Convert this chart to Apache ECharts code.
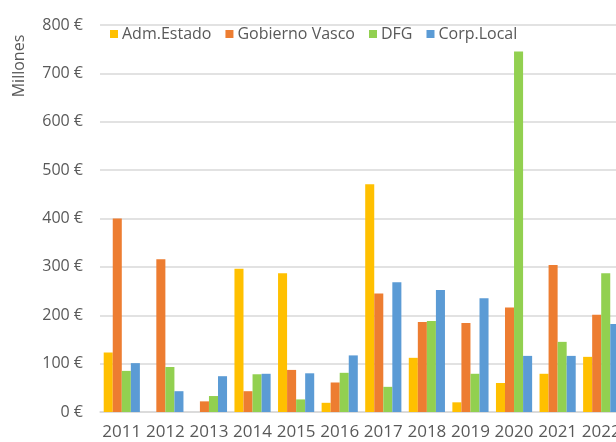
<!DOCTYPE html>
<html>
<head>
<meta charset="utf-8">
<script src="https://cdn.jsdelivr.net/npm/echarts@6/dist/echarts.min.js"></script>
<style>
  html, body { margin: 0; padding: 0; overflow: hidden; background: #fff; }
  #chart { width: 640px; height: 442px; }
</style>
</head>
<body>
<div id="chart"></div>
<script>
// ---- 数据 ----
var years      = ["2011", "2012", "2013", "2014", "2015", "2016", "2017", "2018", "2019", "2020", "2021", "2022"];
var admEstado  = [123, 0, 0, 296, 287, 19, 471, 112, 20, 60, 79, 114];
var gobVasco   = [400, 316, 22, 43, 87, 61, 245, 186, 184, 216, 304, 201];
var dfg        = [85, 93, 33, 78, 26, 81, 52, 188, 79, 745, 145, 287];
var corpLocal  = [101, 43, 74, 79, 80, 117, 268, 252, 235, 116, 116, 182];
var seriesNames = ["Adm.Estado", "Gobierno Vasco", "DFG", "Corp.Local"];
var colors      = ["#FFC000", "#ED7D31", "#92D050", "#5B9BD5"];

var FONT = "'Open Sans', 'Noto Sans', sans-serif";
var TEXT = "#595959";

var chart = echarts.init(document.getElementById("chart"), null, { renderer: "canvas" });

function bar(name, data) {
  return { name: name, type: "bar", data: data, barGap: "0%", barCategoryGap: "17%" };
}

chart.setOption({
  animation: false,
  color: colors,
  textStyle: { fontFamily: FONT },
  legend: {
    left: 110, top: 26, padding: 0,
    icon: "rect", itemWidth: 8, itemHeight: 8, itemGap: 14,
    textStyle: { fontSize: 16, color: TEXT, fontFamily: FONT, padding: [0, 0, 0, -1] },
    data: seriesNames
  },
  grid: { left: 100, top: 25, width: 523, height: 387, containLabel: false },
  xAxis: {
    type: "category",
    data: years,
    axisTick: { show: false },
    axisLine: { lineStyle: { color: "#d9d9d9", width: 1.5 } },
    axisLabel: { interval: 0, margin: 12, fontSize: 17, color: TEXT, fontFamily: FONT }
  },
  yAxis: {
    type: "value",
    min: 0, max: 800, interval: 100,
    axisLine: { show: false },
    axisTick: { show: false },
    splitLine: { lineStyle: { color: "#d9d9d9", width: 1.5 } },
    axisLabel: { margin: 17, fontSize: 16, color: TEXT, fontFamily: FONT, formatter: "{value} €" }
  },
  graphic: [{
    type: "text",
    x: 19, y: 66,
    rotation: Math.PI / 2,
    style: { text: "Millones", fontSize: 16, fill: TEXT, fontFamily: FONT, align: "center", verticalAlign: "middle" }
  }],
  series: [
    bar(seriesNames[0], admEstado),
    bar(seriesNames[1], gobVasco),
    bar(seriesNames[2], dfg),
    bar(seriesNames[3], corpLocal)
  ]
});
</script>
</body>
</html>
